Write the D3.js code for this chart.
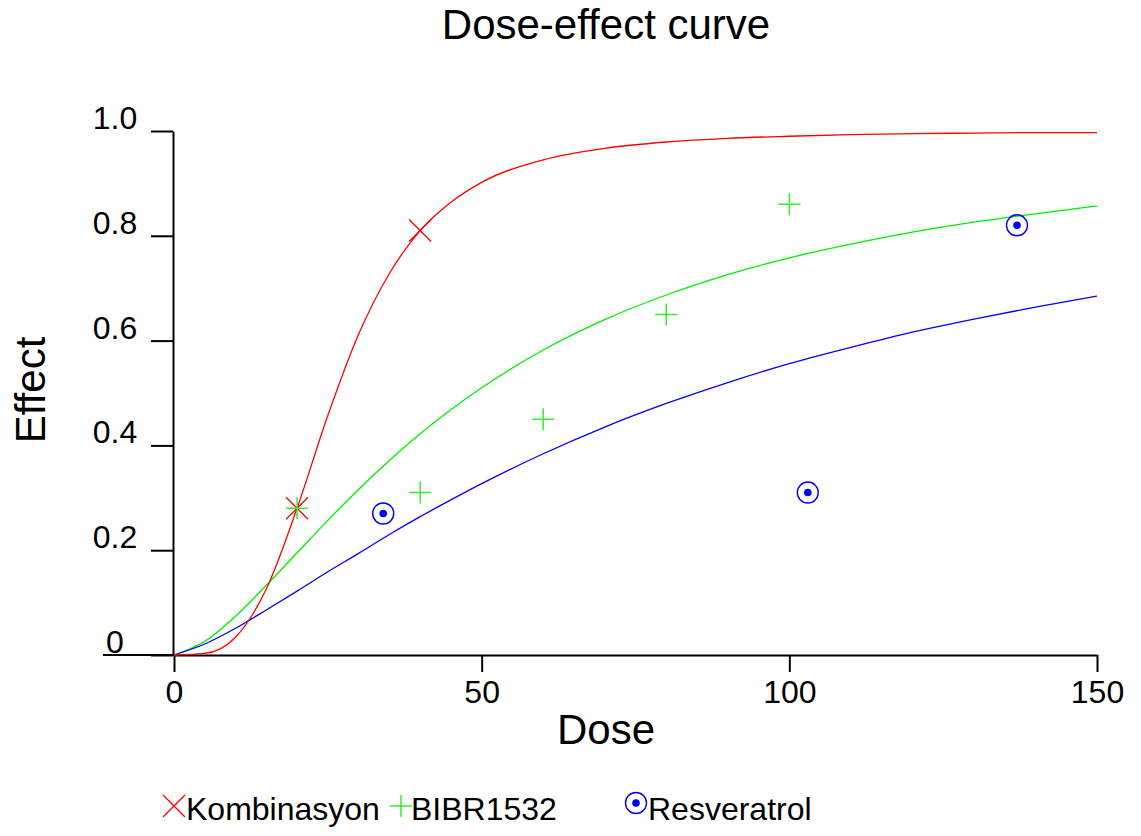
<!DOCTYPE html>
<html lang="en">
<head>
  <meta charset="utf-8">
  <title>Dose-effect curve</title>
  <script src="https://cdn.jsdelivr.net/npm/d3@7"></script>
  <style>
    body { margin: 0; background: #fff; }
    svg text { font-family: Arial, "Liberation Sans", sans-serif; fill: #000; }
  </style>
</head>
<body>
<script>
  // fitted curves at these doses
  var curveDose = [0, 5, 10, 15, 20, 25, 30, 35, 40, 45, 50, 60, 70, 80, 90, 100, 110, 120, 130, 140, 150];
  var kombiCurve = [0, 0.003, 0.034, 0.126, 0.28, 0.457, 0.612, 0.728, 0.81, 0.864, 0.902, 0.945, 0.967, 0.979, 0.986, 0.990, 0.993, 0.995, 0.996, 0.997, 0.997];
  var bibrCurve = [0, 0.026, 0.074, 0.133, 0.195, 0.257, 0.316, 0.371, 0.422, 0.468, 0.510, 0.582, 0.640, 0.687, 0.726, 0.758, 0.784, 0.807, 0.826, 0.842, 0.857];
  var resvCurve = [0, 0.021, 0.051, 0.086, 0.122, 0.159, 0.194, 0.230, 0.264, 0.296, 0.327, 0.384, 0.435, 0.480, 0.520, 0.556, 0.587, 0.616, 0.641, 0.664, 0.685];

  // measured points
  var kombiDose = [20, 40];
  var kombiEffect = [0.28, 0.81];
  var bibrDose = [20, 40, 60, 80, 100];
  var bibrEffect = [0.28, 0.31, 0.45, 0.65, 0.86];
  var resvDose = [34, 103, 137];
  var resvEffect = [0.27, 0.31, 0.82];

  var xTicks = [0, 50, 100, 150];
  var yTicks = [0, 0.2, 0.4, 0.6, 0.8, 1.0];

  var width = 1141, height = 836;

  var svg = d3.select("body").append("svg")
    .attr("width", width)
    .attr("height", height);

  var x = d3.scaleLinear().domain([0, 150]).range([174, 1097]);
  var y = d3.scaleLinear().domain([0, 1]).range([655, 131]);

  // title + axis labels
  svg.append("text")
    .attr("x", 606).attr("y", 39)
    .attr("text-anchor", "middle")
    .attr("font-size", "42px")
    .text("Dose-effect curve");

  svg.append("text")
    .attr("x", 606).attr("y", 744)
    .attr("text-anchor", "middle")
    .attr("font-size", "42px")
    .text("Dose");

  svg.append("text")
    .attr("transform", "translate(45,390) rotate(-90)")
    .attr("text-anchor", "middle")
    .attr("font-size", "42px")
    .text("Effect");

  // axes
  var xAxis = svg.append("g")
    .attr("transform", "translate(0,655)")
    .call(d3.axisBottom(x).tickValues(xTicks).tickSize(17).tickSizeOuter(0).tickPadding(8).tickFormat(d3.format("d")));

  var yAxis = svg.append("g")
    .attr("transform", "translate(173,0)")
    .call(d3.axisLeft(y).tickValues(yTicks).tickSize(22).tickSizeOuter(0)
      .tickFormat(d => d === 0 ? "0" : d.toFixed(1)));

  yAxis.selectAll(".tick text")
    .attr("x", -58)
    .attr("dy", "-0.08em")
    .attr("text-anchor", "middle");

  [xAxis, yAxis].forEach(g => {
    g.attr("font-size", null).attr("font-family", null);
    g.selectAll("text").attr("font-size", "32px").attr("fill", "#000");
    g.selectAll("line, path").attr("stroke", "#000").attr("stroke-width", 2);
  });

  // x axis line runs a bit left past the y axis
  svg.append("line")
    .attr("x1", 103).attr("x2", x(0))
    .attr("y1", y(0)).attr("y2", y(0))
    .attr("stroke", "#000").attr("stroke-width", 2);

  // curves
  var line = d3.line()
    .x(d => x(d[0]))
    .y(d => y(d[1]))
    .curve(d3.curveMonotoneX);

  var curves = [
    { vals: bibrCurve, color: "#00ee00" },
    { vals: resvCurve, color: "#0000ff" },
    { vals: kombiCurve, color: "#ff0000" }
  ];

  svg.append("g").selectAll("path")
    .data(curves)
    .enter().append("path")
    .attr("d", c => line(curveDose.map((d, i) => [d, c.vals[i]])))
    .attr("fill", "none")
    .attr("stroke", c => c.color)
    .attr("stroke-width", 1.3);

  // markers
  function drawCross(g, cx, cy) {
    g.append("path")
      .attr("d", `M${cx - 11},${cy - 11}L${cx + 11},${cy + 11}M${cx - 11},${cy + 11}L${cx + 11},${cy - 11}`)
      .attr("stroke", "#ff0000").attr("stroke-width", 1.3).attr("fill", "none");
  }
  function drawPlus(g, cx, cy) {
    g.append("path")
      .attr("d", `M${cx - 11},${cy}L${cx + 11},${cy}M${cx},${cy - 11}L${cx},${cy + 11}`)
      .attr("stroke", "#33ee33").attr("stroke-width", 1.5).attr("fill", "none");
  }
  function drawTarget(g, cx, cy) {
    g.append("circle").attr("cx", cx).attr("cy", cy).attr("r", 10.5)
      .attr("fill", "none").attr("stroke", "#0000ff").attr("stroke-width", 1.4);
    g.append("circle").attr("cx", cx).attr("cy", cy).attr("r", 3.8)
      .attr("fill", "#0000ff");
  }

  var marks = svg.append("g");
  kombiDose.forEach((d, i) => drawCross(marks, x(d), y(kombiEffect[i])));
  bibrDose.forEach((d, i) => drawPlus(marks, x(d), y(bibrEffect[i])));
  resvDose.forEach((d, i) => drawTarget(marks, x(d), y(resvEffect[i])));

  // legend
  var legend = svg.append("g");
  drawCross(legend, 174, 806);
  drawPlus(legend, 401, 806);
  drawTarget(legend, 636, 803);
  [["Kombinasyon", 186], ["BIBR1532", 411], ["Resveratrol", 648]].forEach(l => {
    legend.append("text")
      .attr("x", l[1]).attr("y", 820)
      .attr("font-size", "32px")
      .text(l[0]);
  });
</script>
</body>
</html>
